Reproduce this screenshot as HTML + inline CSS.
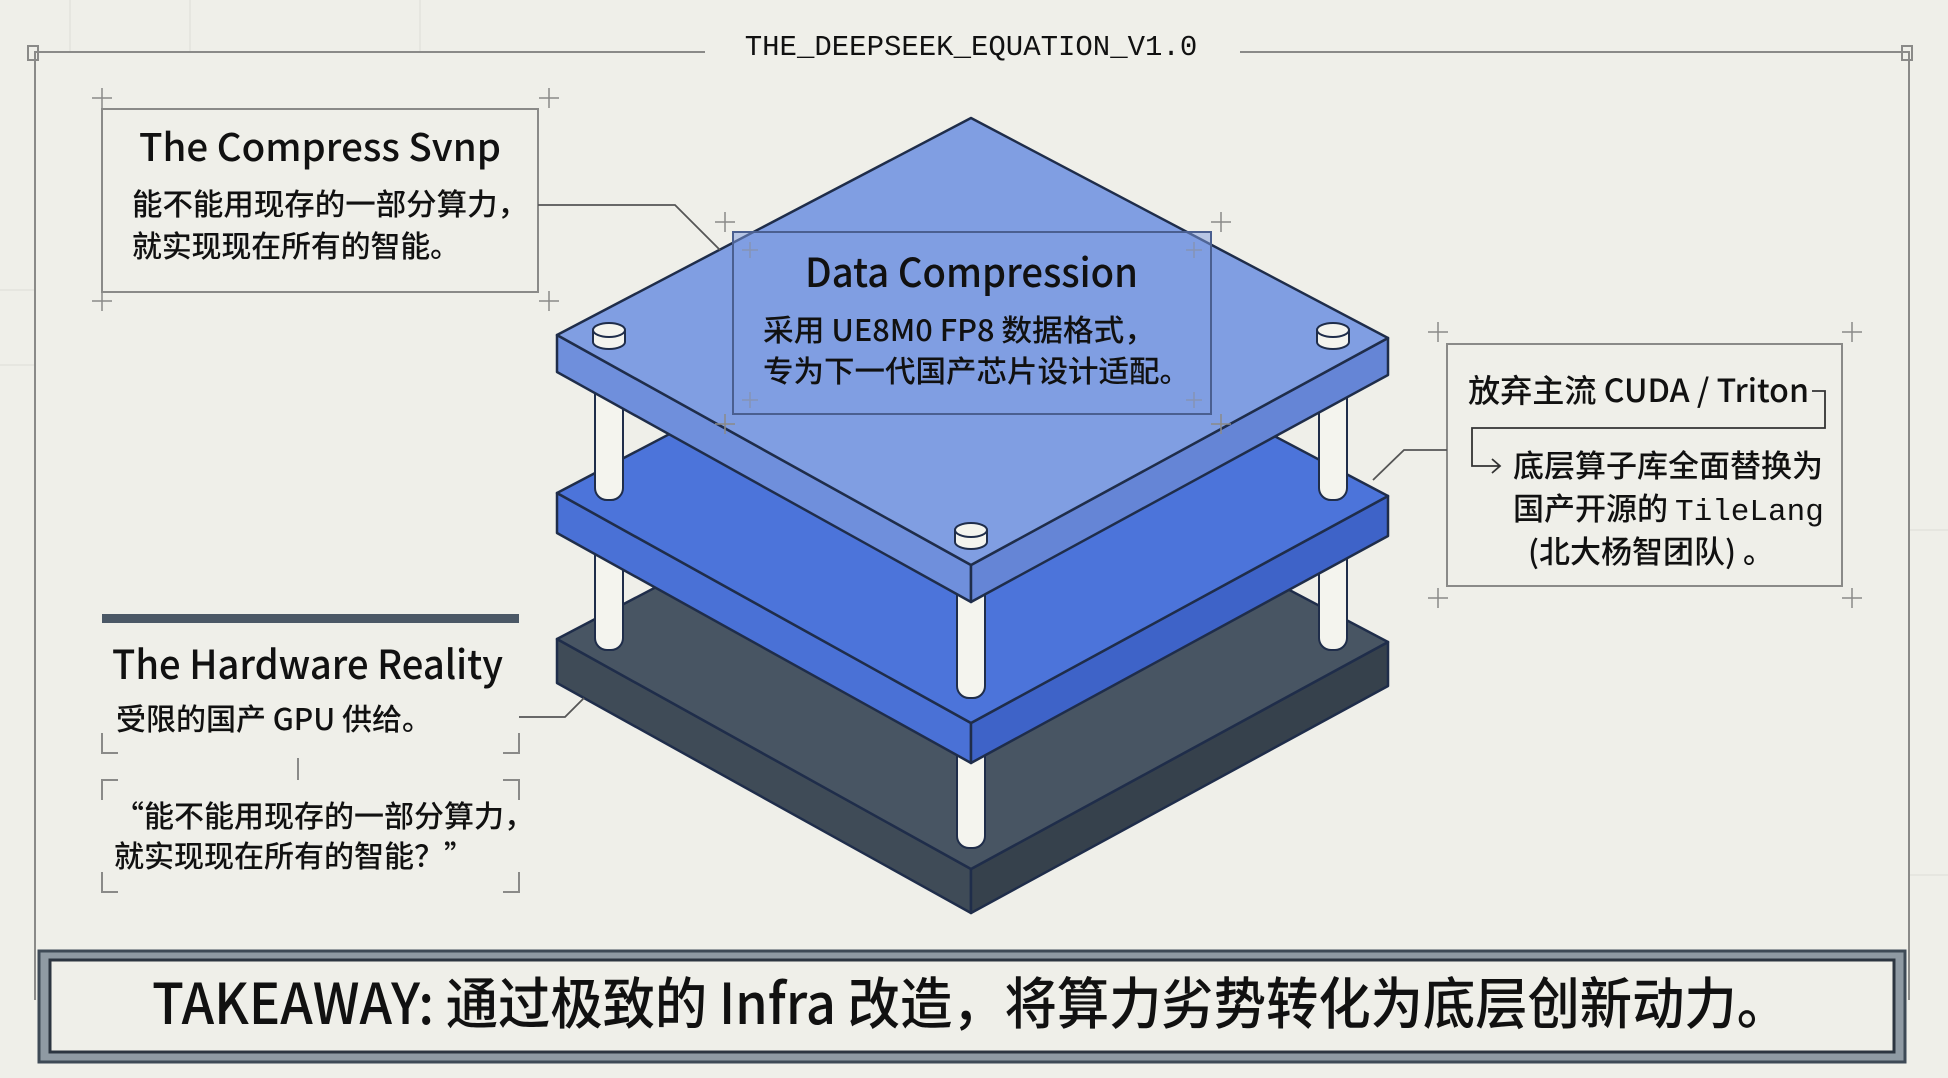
<!DOCTYPE html>
<html><head><meta charset="utf-8"><style>
html,body{margin:0;padding:0;background:#efefe9;}
svg{display:block}
text{font-family:"Noto Sans CJK SC","Liberation Sans",sans-serif;fill:#111;font-weight:500;}
.m{font-family:"Liberation Mono","Noto Sans CJK SC",monospace;font-weight:400;}
</style></head><body>
<svg width="1948" height="1078" viewBox="0 0 1948 1078" xmlns="http://www.w3.org/2000/svg">
<rect width="1948" height="1078" fill="#efefe9"/>
<g stroke="#dcdcd6" stroke-width="1" fill="none">
<line x1="70" y1="0" x2="70" y2="52"/><line x1="190" y1="0" x2="190" y2="52"/><line x1="420" y1="0" x2="420" y2="52"/>
<line x1="0" y1="290" x2="35" y2="290"/><line x1="0" y1="365" x2="35" y2="365"/>
<line x1="1909" y1="530" x2="1948" y2="530"/><line x1="1909" y1="875" x2="1948" y2="875"/>
</g>
<g stroke="#8a8a88" stroke-width="2" fill="none">
<path d="M35 1000 V52 H705"/><path d="M1240 52 H1909 V1000"/>
<rect x="28" y="46" width="10" height="14"/><rect x="1902" y="46" width="10" height="14"/>
</g>
<text x="971" y="55" class="m" font-size="29" text-anchor="middle" fill="#222">THE_DEEPSEEK_EQUATION_V1.0</text>

<g stroke="#1f2d4a" stroke-width="2.5" stroke-linejoin="round">
<polygon points="557,639 971,869 971,913 557,683" fill="#3f4b57"/>
<polygon points="971,869 1388,642 1388,686 971,913" fill="#36414c"/>
<polygon points="971,422 1388,642 971,869 557,639" fill="#485563"/>
</g>
<g stroke="#1f2d4a" stroke-width="2" fill="#f4f4ee">
<rect x="595" y="520" width="28" height="130" rx="12"/>
<rect x="1319" y="520" width="28" height="130" rx="12"/>
<rect x="957" y="740" width="28" height="108" rx="12"/>
</g>
<g stroke="#1f2d4a" stroke-width="2.5" stroke-linejoin="round">
<polygon points="557,493 971,723 971,763 557,533" fill="#4a71d6"/>
<polygon points="971,723 1388,496 1388,536 971,763" fill="#3e63c8"/>
<polygon points="971,276 1388,496 971,723 557,493" fill="#4c74da"/>
</g>
<g stroke="#1f2d4a" stroke-width="2" fill="#f4f4ee">
<rect x="595" y="360" width="28" height="140" rx="12"/>
<rect x="1319" y="360" width="28" height="140" rx="12"/>
<rect x="957" y="580" width="28" height="118" rx="12"/>
</g>
<g stroke="#1f2d4a" stroke-width="2.5" stroke-linejoin="round">
<polygon points="557,335 971,565 971,602 557,372" fill="#6f8fdc"/>
<polygon points="971,565 1388,338 1388,375 971,602" fill="#6585d6"/>
<polygon points="971,118 1388,338 971,565 557,335" fill="#809ee2"/>
</g>
<g stroke="#1f2d4a" stroke-width="2" fill="#f4f4ee">
<path d="M593 330 v12 a16 7 0 0 0 32 0 v-12"/><ellipse cx="609" cy="330" rx="16" ry="7"/>
<path d="M1317 330 v12 a16 7 0 0 0 32 0 v-12"/><ellipse cx="1333" cy="330" rx="16" ry="7"/>
<path d="M955 530 v12 a16 7 0 0 0 32 0 v-12"/><ellipse cx="971" cy="530" rx="16" ry="7"/>
</g>

<g stroke="#8a8a88" stroke-width="1.5">
<path d="M92 98 h20 M102 88 v20 M539 98 h20 M549 88 v20 M92 301 h20 M102 291 v20 M539 301 h20 M549 291 v20"/>
<path d="M110 126 h16 M118 118 v16 M514 126 h16 M522 118 v16 M110 274 h16 M118 266 v16 M514 274 h16 M522 266 v16"/>
<path d="M715 222 h20 M725 212 v20 M1211 222 h20 M1221 212 v20 M715 424 h20 M725 414 v20 M1211 424 h20 M1221 414 v20"/>
<path d="M742 250 h16 M750 242 v16 M1186 250 h16 M1194 242 v16 M742 400 h16 M750 392 v16 M1186 400 h16 M1194 392 v16"/>
<path d="M1428 332 h20 M1438 322 v20 M1842 332 h20 M1852 322 v20 M1428 598 h20 M1438 588 v20 M1842 598 h20 M1852 588 v20"/>
<path d="M1456 358 h16 M1464 350 v16 M1818 358 h16 M1826 350 v16 M1456 573 h16 M1464 565 v16 M1818 573 h16 M1826 565 v16"/>
</g>
<rect x="102" y="109" width="436" height="183" fill="#efefe9" stroke="#8a8a88" stroke-width="2"/>
<text x="139" y="161" font-size="38" textLength="362" lengthAdjust="spacingAndGlyphs">The Compress Svnp</text>
<text x="132" y="215" font-size="30" textLength="396" lengthAdjust="spacingAndGlyphs">能不能用现存的一部分算力，</text>
<text x="132" y="257" font-size="30" textLength="328" lengthAdjust="spacingAndGlyphs">就实现现在所有的智能。</text>
<path d="M538 205 H675 L720 250" fill="none" stroke="#555" stroke-width="1.8"/>

<rect x="733" y="232" width="478" height="182" fill="#7f9de2" fill-opacity="0.5" stroke="#4a5f90" stroke-width="2"/>
<text x="805" y="287" font-size="40" textLength="333" lengthAdjust="spacingAndGlyphs">Data Compression</text>
<text x="763" y="341" font-size="30" textLength="392" lengthAdjust="spacingAndGlyphs">采用 UE8M0 FP8 数据格式，</text>
<text x="763" y="382" font-size="30" textLength="427" lengthAdjust="spacingAndGlyphs">专为下一代国产芯片设计适配。</text>

<rect x="1447" y="344" width="395" height="242" fill="#efefe9" stroke="#8a8a88" stroke-width="2"/>
<text x="1468" y="402" font-size="32" textLength="341" lengthAdjust="spacingAndGlyphs">放弃主流 CUDA / Triton</text>
<path d="M1812 391 h13 v37 H1472 v38 h28 M1492 459 l8 7 l-8 7" fill="none" stroke="#333" stroke-width="1.8"/>
<text x="1513" y="477" font-size="31">底层算子库全面替换为</text>
<text x="1513" y="520" font-size="31">国产开源的 <tspan class="m">TileLang</tspan></text>
<text x="1528" y="563" font-size="31">(北大杨智团队) 。</text>
<path d="M1447 450 H1404 L1373 480" fill="none" stroke="#555" stroke-width="1.8"/>

<rect x="102" y="614" width="417" height="9" fill="#4b5866"/>
<text x="112" y="679" font-size="40" textLength="391" lengthAdjust="spacingAndGlyphs">The Hardware Reality</text>
<text x="116" y="730" font-size="30">受限的国产 GPU 供给。</text>
<g fill="none" stroke="#8a8a88" stroke-width="2">
<path d="M102 733 v20 h16 M519 733 v20 h-16 M298 758 v22"/>
<path d="M102 800 v-20 h16 M519 800 v-20 h-16 M102 872 v20 h16 M519 872 v20 h-16"/>
</g>
<path d="M519 717 H565 L584 698" fill="none" stroke="#555" stroke-width="1.8"/>
<text x="114" y="827" font-size="30">“能不能用现存的一部分算力，</text>
<text x="114" y="867" font-size="30">就实现现在所有的智能？”</text>

<rect x="39" y="951" width="1866" height="111" fill="#8f9aa3" stroke="#3e4a56" stroke-width="3"/>
<rect x="50" y="960" width="1844" height="92" fill="#efefe9" stroke="#2c3540" stroke-width="3"/>
<text x="152" y="1024" font-size="56" textLength="1637" lengthAdjust="spacingAndGlyphs">TAKEAWAY: 通过极致的 Infra 改造，将算力劣势转化为底层创新动力。</text>
</svg>
</body></html>
